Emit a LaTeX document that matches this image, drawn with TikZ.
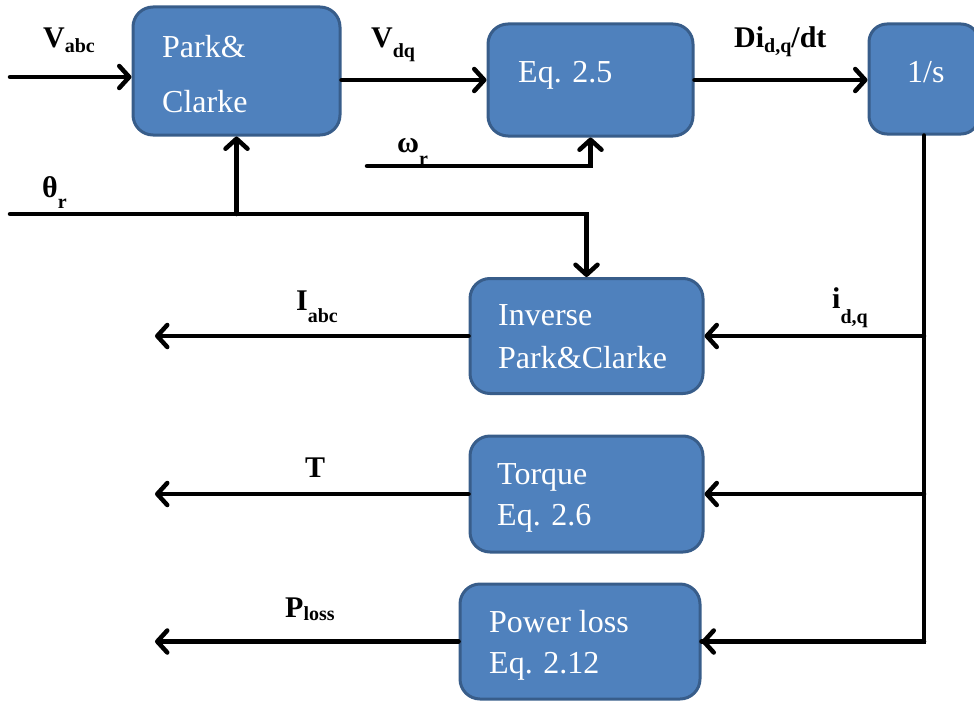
\documentclass[tikz,border=0pt]{standalone}
\usepackage{fontspec}
\setmainfont{Liberation Serif}
\usetikzlibrary{arrows.meta}
\definecolor{boxfill}{HTML}{4F81BD}
\definecolor{boxline}{HTML}{385D8A}
\tikzset{
  block/.style={draw=boxline, line width=3pt, fill=boxfill, rounded corners=20pt, inner sep=0pt},
  btext/.style={anchor=base west, inner sep=0pt, text=white, font=\fontsize{32}{36}\selectfont},
  sig/.style={anchor=base west, inner sep=0pt, font=\fontsize{30}{32}\selectfont\bfseries},
  wire/.style={line width=4.5pt, line cap=round, line join=miter},
  arr/.style={wire, -{Straight Barb[length=10pt,width=22pt,line cap=round,line join=round]}}
}
\newcommand\subs[2]{\raisebox{#1}{\fontsize{20}{20}\selectfont\bfseries #2}}
\begin{document}
\begin{tikzpicture}[x=1pt,y=-1pt]
\useasboundingbox (0,0) rectangle (974,701);
\clip (0,0) rectangle (974,701);

% blocks
\node[block, minimum width=207pt, minimum height=128pt] (pc) at (236.5,71) {};
\node[block, minimum width=205pt, minimum height=112pt] (eq) at (590.5,80) {};
\node[block, minimum width=110pt, minimum height=110pt, rounded corners=18pt] (integ) at (924,79) {};
\node[block, minimum width=233pt, minimum height=115pt] (inv) at (586.5,336) {};
\node[block, minimum width=233pt, minimum height=116pt] (tq) at (586.5,494) {};
\node[block, minimum width=240pt, minimum height=115pt] (pl) at (580,641.5) {};

% block texts
\node[btext] (pct1) at (162,57) {Park\&};
\node[btext] (pct2) at (162,112) {Clarke};
\node[btext] (eqt) at (518,82) {Eq. 2.5};
\node[btext] (integt) at (907,82) {1/s};
\node[btext] (invt1) at (498,325) {Inverse};
\node[btext] (invt2) at (498,368) {Park\&Clarke};
\node[btext] (tqt1) at (497,484) {Torque};
\node[btext] (tqt2) at (497,525) {Eq. 2.6};
\node[btext] (plt1) at (489,632) {Power loss};
\node[btext] (plt2) at (489,673) {Eq. 2.12};

% free ends of the wires
\coordinate (vin) at (10,77);
\coordinate (win) at (367,166);
\coordinate (thin) at (10,214);
\coordinate (out) at (155,0);

% inputs
\draw[arr] (vin) -- (vin -| pc.west);
\draw[arr] (pc.east |- eq.west) -- (eq.west);
\draw[arr] (eq.east) -- (eq.east -| integ.west);
\draw[arr] (win) -| (eq.south);
\draw[arr] (thin) -| (inv.north);
\draw[arr] (pc.south |- thin) -- (pc.south);

% integrator output bus
\draw[wire] (integ.south) |- (pl.east);
\draw[arr] (integ.south |- pl.east) -- (pl.east);
\draw[arr] (integ.south |- inv.east) -- (inv.east);
\draw[arr] (integ.south |- tq.east) -- (tq.east);

% outputs
\draw[arr] (inv.west) -- (inv.west -| out);
\draw[arr] (tq.west) -- (tq.west -| out);
\draw[arr] (pl.west) -- (pl.west -| out);

% signal labels
\node[sig] (lvabc) at (43,48) {V\subs{-5pt}{abc}};
\node[sig] (lth) at (42,197) {θ\subs{-11pt}{r}};
\node[sig] (lvdq) at (371,48) {V\subs{-10pt}{dq}};
\node[sig] (lw) at (397,152) {ω\subs{-13pt}{r}};
\node[sig] (ldi) at (734,48) {Di\subs{-5pt}{d,q}/dt};
\node[sig] (liabc) at (296,310) {I\subs{-12pt}{abc}};
\node[sig] (lidq) at (832,308) {i\subs{-15pt}{d,q}};
\node[sig] (lt) at (305,477) {T};
\node[sig] (lp) at (285,617) {P\subs{-3pt}{loss}};
\end{tikzpicture}
\end{document}
